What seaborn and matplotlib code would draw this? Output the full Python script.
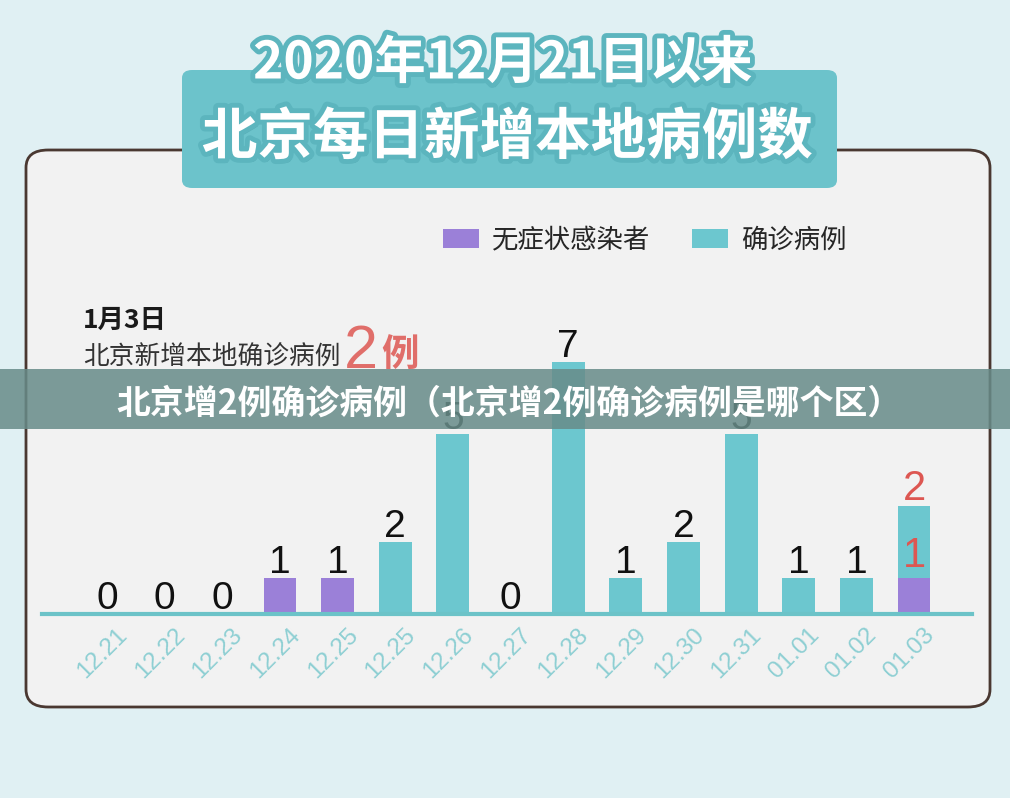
import pandas as pd
import numpy as np
import matplotlib
matplotlib.use("Agg")
import matplotlib.pyplot as plt
import matplotlib.patheffects as pe
from matplotlib.patches import FancyBboxPatch, Rectangle
from matplotlib.transforms import ScaledTranslation
import seaborn as sns

# dados
datas = ["12.21", "12.22", "12.23", "12.24", "12.25", "12.25", "12.26", "12.27",
         "12.28", "12.29", "12.30", "12.31", "01.01", "01.02", "01.03"]
assintomaticos = [0, 0, 0, 1, 1, 0, 0, 0, 0, 0, 0, 0, 0, 0, 1]
confirmados = [0, 0, 0, 0, 0, 2, 5, 0, 7, 1, 2, 5, 1, 1, 2]

titulo1 = "2020年12月21日以来"
titulo2 = "北京每日新增本地病例数"
nota_data = "1月3日"
nota_texto = "北京新增本地确诊病例"
nota_num = "2"
nota_unid = "例"
faixa = "北京增2例确诊病例（北京增2例确诊病例是哪个区）"
leg_assint = "无症状感染者"
leg_conf = "确诊病例"

ROXO = "#9b80d8"
AZUL = "#6cc7cf"
VERMELHO = "#dd5752"
FUNDO = "#e0f0f3"

sns.set_theme(style="white")
plt.rcParams['font.family'] = ['Liberation Sans', 'Noto Sans CJK SC', 'DejaVu Sans']
CJK = ['Noto Sans CJK SC', 'DejaVu Sans']

W, H = 1010, 798


def fx(px):
      return px / W


def fy(py):
      return 1 - py / H


df = pd.DataFrame({
      "pos": np.arange(len(datas)),
      "data": datas,
      "assint": assintomaticos,
      "conf": confirmados,
})
df["total"] = df["assint"] + df["conf"]

fig = plt.figure(figsize=(W / 100, H / 100), dpi=100, facecolor=FUNDO)

# painel com borda arredondada
painel = FancyBboxPatch((fx(26), fy(707)), fx(990) - fx(26), fy(150) - fy(707),
                        boxstyle="round,pad=0,rounding_size=0.022",
                        transform=fig.transFigure, facecolor="#f2f2f2",
                        edgecolor="#4a3831", linewidth=2.0, zorder=-2)
fig.patches.append(painel)

# caixa do título
caixa = FancyBboxPatch((fx(182), fy(188)), fx(837) - fx(182), fy(70) - fy(188),
                       boxstyle="round,pad=0,rounding_size=0.01",
                       transform=fig.transFigure, facecolor="#6cc3cb",
                       edgecolor="none", zorder=2)
fig.patches.append(caixa)

efeito = [pe.SimplePatchShadow(offset=(2, -3), shadow_rgbFace="#3f8e96", alpha=0.5),
          pe.Stroke(linewidth=7, foreground="#5cb5be"), pe.Normal()]
fig.text(fx(503), fy(63), titulo1, ha="center", va="center", fontsize=37,
         fontweight="bold", color="white", family=CJK, path_effects=efeito, zorder=3)
fig.text(fx(507), fy(138), titulo2, ha="center", va="center", fontsize=40,
         fontweight="bold", color="white", family=CJK, path_effects=efeito, zorder=3)

# eixo das barras
ax = fig.add_axes([fx(42), fy(614), fx(972) - fx(42), fy(300) - fy(614)])
ax.set_facecolor("none")

sns.barplot(data=df, x="pos", y="total", orient="x", color=AZUL, width=0.57,
            errorbar=None, linewidth=0, saturation=1, label=leg_conf, ax=ax)
sns.barplot(data=df, x="pos", y="assint", orient="x", color=ROXO, width=0.57,
            errorbar=None, linewidth=0, saturation=1, label=leg_assint, ax=ax)

rotulos = [str(c if c > 0 else a) for a, c in zip(assintomaticos, confirmados)]
textos = ax.bar_label(ax.containers[0], labels=rotulos, padding=-2, fontsize=28,
                      color="#111111")
textos[-1].set_color(VERMELHO)
textos[-1].set_fontsize(30)
ultimo = len(datas) - 1
ax.text(ultimo, assintomaticos[-1] + confirmados[-1] * 0.3, str(assintomaticos[-1]),
        ha="center", va="center", fontsize=30, color=VERMELHO, zorder=5)

ax.set_xlim(-1.128, 15.006)
ax.set_ylim(0, 8.72)
ax.set_yticks([])
ax.set_xlabel("")
ax.set_ylabel("")
for lado in ["left", "right", "top"]:
      ax.spines[lado].set_visible(False)
ax.spines["bottom"].set_color("#6cc3c8")
ax.spines["bottom"].set_linewidth(3)

ax.set_xticks(df["pos"])
ax.set_xticklabels(datas, rotation=45, ha="right", va="center",
                   rotation_mode="anchor", fontsize=17.5, color="#8ecfd3")
ax.tick_params(axis="x", length=0, pad=13)
desloc = ScaledTranslation(0.17, 0, fig.dpi_scale_trans)
for lbl in ax.get_xticklabels():
      lbl.set_transform(lbl.get_transform() + desloc)

if ax.get_legend() is not None:
      ax.get_legend().remove()

handles, labels = ax.get_legend_handles_labels()
fig.legend(handles[::-1], labels[::-1], loc="center left",
           bbox_to_anchor=(fx(443), fy(240)), ncol=2, frameon=False,
           prop={"family": CJK, "size": 19}, handlelength=1.35, handleheight=0.7,
           handletextpad=0.5, columnspacing=1.6, borderpad=0, borderaxespad=0)

# anotação 1月3日
fig.text(fx(83), fy(320), nota_data, ha="left", va="center", fontsize=19,
         fontweight="bold", color="#1a1a1a", family=CJK)
fig.text(fx(83), fy(358), nota_texto, ha="left", va="center", fontsize=18.5,
         color="#333333", family=CJK)
fig.text(fx(344), fy(353), nota_num, ha="left", va="center", fontsize=44,
         color=VERMELHO, alpha=0.85)
fig.text(fx(381), fy(354), nota_unid, ha="left", va="center", fontsize=27,
         fontweight="bold", color=VERMELHO, alpha=0.85, family=CJK)

# faixa sobreposta
faixa_ret = Rectangle((0, fy(429)), 1, fy(369) - fy(429), transform=fig.transFigure,
                      facecolor="#688c89", alpha=0.86, edgecolor="none", zorder=10)
fig.patches.append(faixa_ret)
fig.text(fx(509), fy(403), faixa, ha="center", va="center", fontsize=24.4,
         fontweight="bold", color="white", family=CJK, zorder=11)

fig.savefig("out.png", dpi=100, facecolor=FUNDO)
